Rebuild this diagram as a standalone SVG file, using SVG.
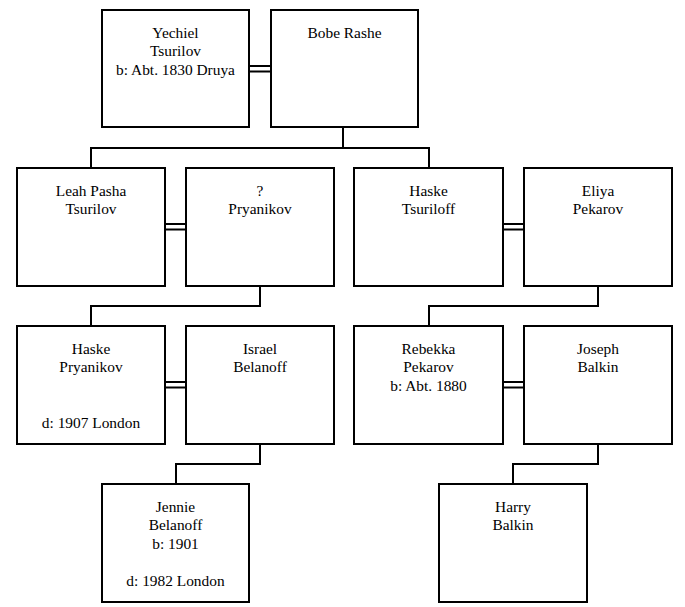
<svg xmlns="http://www.w3.org/2000/svg" width="685" height="607" viewBox="0 0 685 607">
<style>
.box{fill:#fff;stroke:#000;stroke-width:2}
.ln{fill:none;stroke:#000;stroke-width:2}
text{font-family:'Liberation Serif','Times New Roman',Tinos,'DejaVu Serif',serif;font-size:15.4px;fill:#000;text-anchor:middle}
</style>
<rect width="685" height="607" fill="#fff"/>
<g id="connectors">
<path class="ln" d="M249,66H271M249,71.5H271"/>
<path class="ln" d="M165,224H186M165,229.5H186"/>
<path class="ln" d="M503,224H524M503,229.5H524"/>
<path class="ln" d="M165,382H186M165,387.5H186"/>
<path class="ln" d="M503,382H524M503,387.5H524"/>
<path class="ln" d="M343,127V148M91,168V148H429V168"/>
<path class="ln" d="M260,286V306H91V326"/>
<path class="ln" d="M598,286V306H429V326"/>
<path class="ln" d="M260,444V464H176V484"/>
<path class="ln" d="M598,444V464H513V484"/>
</g>
<g id="yechiel"><rect class="box" x="102" y="10" width="147" height="117"/><text x="175.5" y="37.5">Yechiel</text><text x="175.5" y="56">Tsurilov</text><text x="175.5" y="75">b: Abt. 1830 Druya</text></g>
<g id="bobe"><rect class="box" x="271" y="10" width="147" height="117"/><text x="344.5" y="37.5">Bobe Rashe</text></g>
<g id="leah"><rect class="box" x="17" y="168" width="148" height="118"/><text x="91" y="195.5">Leah Pasha</text><text x="91" y="214">Tsurilov</text></g>
<g id="pryanikov"><rect class="box" x="186" y="168" width="148" height="118"/><text x="260" y="195.5">?</text><text x="260" y="214">Pryanikov</text></g>
<g id="haske-tsuriloff"><rect class="box" x="354" y="168" width="149" height="118"/><text x="428.5" y="195.5">Haske</text><text x="428.5" y="214">Tsuriloff</text></g>
<g id="eliya"><rect class="box" x="524" y="168" width="148" height="118"/><text x="598" y="195.5">Eliya</text><text x="598" y="214">Pekarov</text></g>
<g id="haske-pryanikov"><rect class="box" x="17" y="326" width="148" height="118"/><text x="91" y="353.5">Haske</text><text x="91" y="372">Pryanikov</text><text x="91" y="428">d: 1907 London</text></g>
<g id="israel"><rect class="box" x="186" y="326" width="148" height="118"/><text x="260" y="353.5">Israel</text><text x="260" y="372">Belanoff</text></g>
<g id="rebekka"><rect class="box" x="354" y="326" width="149" height="118"/><text x="428.5" y="353.5">Rebekka</text><text x="428.5" y="372">Pekarov</text><text x="428.5" y="390.5">b: Abt. 1880</text></g>
<g id="joseph"><rect class="box" x="524" y="326" width="148" height="118"/><text x="598" y="353.5">Joseph</text><text x="598" y="372">Balkin</text></g>
<g id="jennie"><rect class="box" x="102" y="484" width="147" height="118"/><text x="175.5" y="511.5">Jennie</text><text x="175.5" y="530">Belanoff</text><text x="175.5" y="548.5">b: 1901</text><text x="175.5" y="586">d: 1982 London</text></g>
<g id="harry"><rect class="box" x="439" y="484" width="148" height="118"/><text x="513" y="511.5">Harry</text><text x="513" y="530">Balkin</text></g>
</svg>
